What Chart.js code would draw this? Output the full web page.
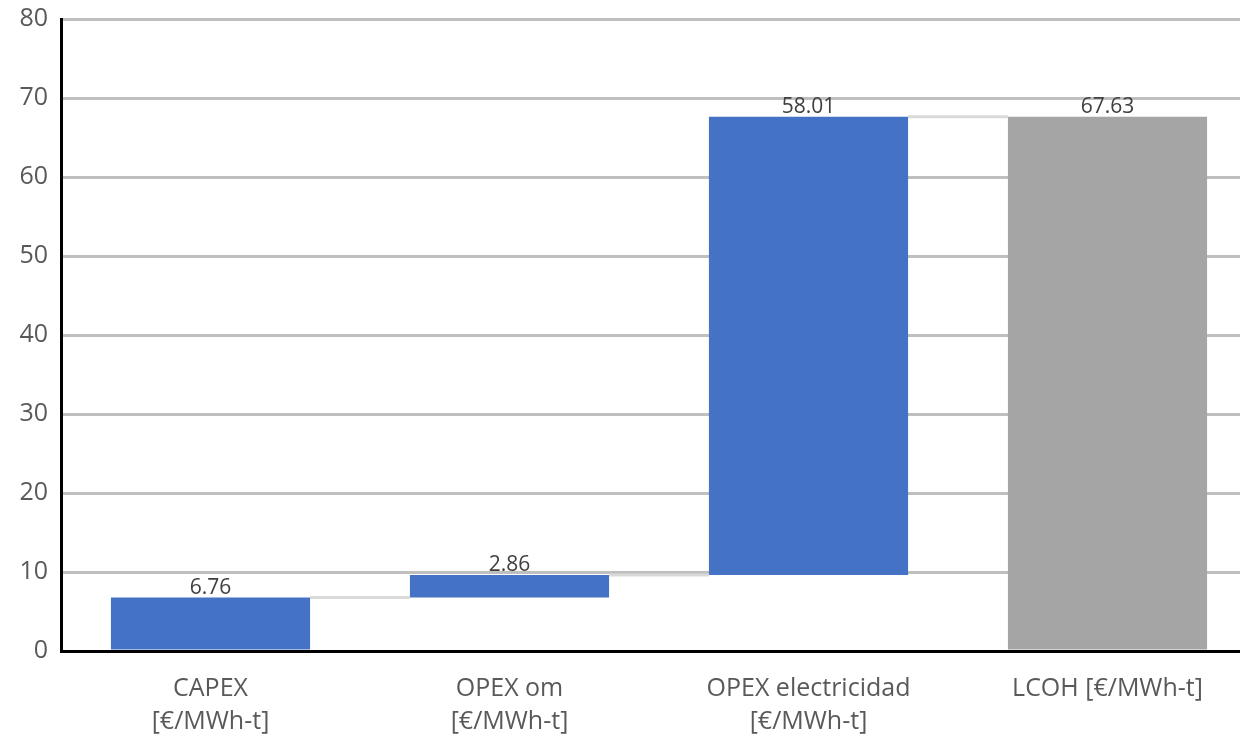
<!DOCTYPE html>
<html lang="es">
<head>
<meta charset="UTF-8">
<title>LCOH</title>
<script src="https://cdn.jsdelivr.net/npm/chart.js"></script>
<style>
  html, body { margin: 0; padding: 0; background: #fff; overflow: hidden; }
  #wrap { width: 1240px; height: 736px; overflow: hidden; }
</style>
</head>
<body>
<div id="wrap"><canvas id="lcoh" width="1257" height="736"></canvas></div>
<script>
// categories and values
const categories = [
    ["CAPEX", "[€/MWh-t]"],
    ["OPEX om", "[€/MWh-t]"],
    ["OPEX electricidad", "[€/MWh-t]"],
    "LCOH [€/MWh-t]"
];
const steps = [6.76, 2.86, 58.01];   // increments
const total = 67.63;                   // final bar
const isTotal = [false, false, false, true];
const yTicks = [0, 10, 20, 30, 40, 50, 60, 70, 80];

// build floating ranges
const ranges = [];
const labels = [];
let run = 0;
steps.forEach(v => {
    ranges.push([run, run + v]);
    labels.push(v.toFixed(2));
    run += v;
});
ranges.push([0, total]);
labels.push(total.toFixed(2));

const FONT = "'Open Sans', 'Liberation Sans', sans-serif";

// connectors between bars + value labels
const waterfallPlugin = {
    id: 'waterfall',
    afterDatasetsDraw(chart) {
        const ctx = chart.ctx;
        const meta = chart.getDatasetMeta(0);
        const y = chart.scales.y;
        ctx.save();
        ctx.strokeStyle = '#d9d9d9';
        ctx.lineWidth = 3;
        for (let i = 0; i < meta.data.length - 1; i++) {
            const a = meta.data[i], b = meta.data[i + 1];
            const level = y.getPixelForValue(ranges[i][1]);
            ctx.beginPath();
            ctx.moveTo(a.x + a.width / 2, level);
            ctx.lineTo(b.x - b.width / 2, level);
            ctx.stroke();
        }
        ctx.fillStyle = '#404040';
        ctx.font = "21px " + FONT;
        ctx.textAlign = 'center';
        ctx.textBaseline = 'alphabetic';
        meta.data.forEach((bar, i) => {
            const top = y.getPixelForValue(ranges[i][1]);
            ctx.fillText(labels[i], bar.x, top - 4);
        });
        ctx.restore();
    }
};

new Chart(document.getElementById('lcoh').getContext('2d'), {
    type: 'bar',
    data: {
        labels: categories,
        datasets: [{
            data: ranges,
            backgroundColor: isTotal.map(t => t ? '#a5a5a5' : '#4472c4'),
            borderWidth: 0,
            borderSkipped: false,
            barPercentage: 0.666,
            categoryPercentage: 1
        }]
    },
    options: {
        responsive: false,
        animation: false,
        layout: { padding: { top: 19, right: 0, left: 0, bottom: 0 } },
        plugins: {
            legend: { display: false },
            tooltip: { enabled: false }
        },
        scales: {
            x: {
                grid: { display: false, drawTicks: false },
                border: { color: '#000', width: 3 },
                ticks: {
                    color: '#595959',
                    font: { family: FONT, size: 25, lineHeight: 1.3 },
                    padding: 22,
                    maxRotation: 0,
                    autoSkip: false
                },
                afterFit(scale) { scale.height = 85; }
            },
            y: {
                min: 0,
                max: 80,
                afterBuildTicks(scale) { scale.ticks = yTicks.map(v => ({ value: v })); },
                grid: { color: '#bfbfbf', lineWidth: 3, drawTicks: false },
                border: { color: '#000', width: 3 },
                ticks: {
                    color: '#595959',
                    font: { family: FONT, size: 25 },
                    padding: 13
                },
                afterFit(scale) {
                    scale.width = 61;
                    scale.paddingTop = 0;
                    scale.paddingBottom = 0;
                }
            }
        }
    },
    plugins: [waterfallPlugin]
});
</script>
</body>
</html>
